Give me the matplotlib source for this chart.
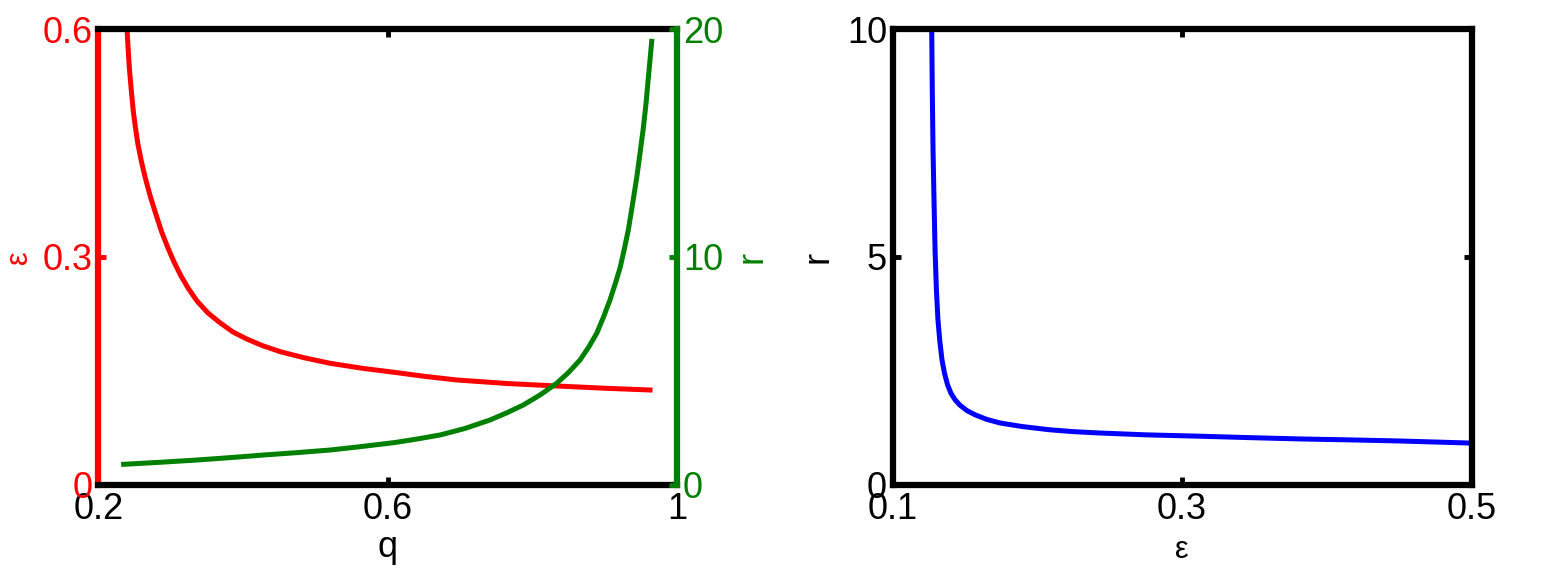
import matplotlib.pyplot as plt

plt.rcParams['font.family'] = ['Liberation Sans', 'DejaVu Sans']

# left panel: epsilon (red) and r (green) against q
q_eps = [0.2394, 0.2409, 0.2426, 0.2452, 0.2481, 0.2511, 0.2546, 0.2593, 0.2647, 0.2716,
         0.2795, 0.2873, 0.2960, 0.3047, 0.3140, 0.3246, 0.3361, 0.3513, 0.3683, 0.3858,
         0.4048, 0.4270, 0.4512, 0.4850, 0.5203, 0.5650, 0.6124, 0.6520, 0.6949, 0.7650,
         0.8331, 0.9000, 0.9620]
eps = [0.600, 0.5744, 0.5487, 0.5204, 0.4917, 0.4697, 0.4478, 0.4257, 0.4039, 0.3796,
       0.3557, 0.3329, 0.3118, 0.2928, 0.2750, 0.2579, 0.2421, 0.2263, 0.2132, 0.2013,
       0.1921, 0.1832, 0.1754, 0.1672, 0.1601, 0.1535, 0.1478, 0.1428, 0.1382, 0.1335,
       0.1303, 0.1273, 0.1250]

q_r = [0.2348, 0.2850, 0.3361, 0.3817, 0.4283, 0.4743, 0.5203, 0.5641, 0.6097, 0.6408,
       0.6719, 0.7064, 0.7409, 0.7637, 0.7870, 0.8100, 0.8331, 0.8494, 0.8653, 0.8770,
       0.8884, 0.8978, 0.9067, 0.9137, 0.9206, 0.9264, 0.9320, 0.9378, 0.9436, 0.9482,
       0.9528, 0.9565, 0.9597, 0.9620, 0.9644]
r_q = [0.908, 0.996, 1.096, 1.20, 1.316, 1.42, 1.535, 1.69, 1.864, 2.02,
       2.193, 2.48, 2.851, 3.16, 3.509, 3.947, 4.461, 4.934, 5.482, 6.031,
       6.654, 7.368, 8.114, 8.794, 9.518, 10.33, 11.18, 12.30, 13.47, 14.54,
       15.66, 16.73, 17.85, 18.64, 19.46]

# right panel: r against epsilon (blue)
eps_b = [0.1271, 0.1275, 0.1280, 0.1287, 0.1294, 0.1303, 0.1314, 0.1327, 0.1342, 0.1360,
         0.1380, 0.1404, 0.1432, 0.1466, 0.1515, 0.1570, 0.1650, 0.1743, 0.1900, 0.2088,
         0.2250, 0.2433, 0.2750, 0.3124, 0.3450, 0.3815, 0.4150, 0.4506, 0.4990]
r_b = [9.98, 8.60, 7.35, 6.20, 5.15, 4.30, 3.62, 3.15, 2.74, 2.44,
       2.20, 2.01, 1.87, 1.75, 1.63, 1.54, 1.44, 1.36, 1.28, 1.21,
       1.17, 1.14, 1.10, 1.07, 1.04, 1.01, 0.99, 0.965, 0.92]

fs = 26
lw_spine = 4.5
lw_line = 3.6

fig = plt.figure(figsize=(15.6, 5.82), dpi=100)
ax = fig.add_axes([0.06314, 0.16667, 0.37115, 0.7835])
ax2 = ax.twinx()
bx = fig.add_axes([0.57212, 0.16667, 0.37115, 0.7835])

ax.plot(q_eps, eps, color='red', lw=lw_line)
ax2.plot(q_r, r_q, color='green', lw=lw_line)
bx.plot(eps_b, r_b, color='blue', lw=lw_line)

ax.set_xlim(0.2, 1)
ax.set_ylim(0, 0.6)
ax2.set_ylim(0, 20)
bx.set_xlim(0.1, 0.5)
bx.set_ylim(0, 10)

ax.set_xticks([0.2, 0.6, 1])
ax.set_xticklabels(['0.2', '0.6', '1'])
ax.set_yticks([0, 0.3, 0.6])
ax.set_yticklabels(['0', '0.3', '0.6'])
ax2.set_yticks([0, 10, 20])
bx.set_xticks([0.1, 0.3, 0.5])
bx.set_xticklabels(['0.1', '0.3', '0.5'])
bx.set_yticks([0, 5, 10])

for a in (ax, ax2, bx):
    for s in a.spines.values():
        s.set_linewidth(lw_spine)
        s.set_color('black')

ax.spines['left'].set_color('red')
ax.spines['right'].set_visible(False)
ax2.spines['right'].set_color('green')
for side in ('left', 'top', 'bottom'):
    ax2.spines[side].set_visible(False)

ax.tick_params(axis='x', direction='in', top=True, length=6, width=3.5,
               labelsize=fs, pad=5, colors='black')
ax.tick_params(axis='y', direction='in', right=False, length=6, width=3.5,
               labelsize=fs, pad=4, colors='red')
ax2.tick_params(axis='y', direction='in', length=6, width=3.5,
                labelsize=fs, pad=4, colors='green')
bx.tick_params(direction='in', top=True, right=True, length=6, width=3.5,
               labelsize=fs, pad=5)
bx.tick_params(axis='y', pad=4)

ax.set_xlabel('q', fontsize=fs, labelpad=2)
ax.set_ylabel('ε', fontsize=22, color='red', labelpad=6)
ax2.set_ylabel('r', fontsize=fs, color='green', labelpad=8)
bx.set_xlabel('ε', fontsize=22, labelpad=6)
bx.set_ylabel('r', fontsize=fs, labelpad=8)

fig.savefig('out.png', dpi=100)
